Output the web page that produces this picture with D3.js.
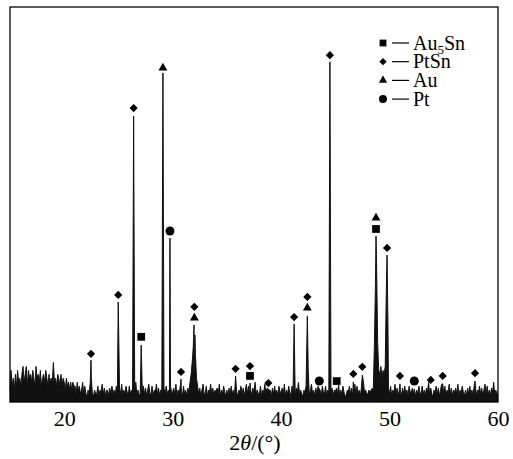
<!DOCTYPE html>
<html><head><meta charset="utf-8">
<script src="https://cdn.jsdelivr.net/npm/d3@7/dist/d3.min.js"></script>
<style>
html,body{margin:0;padding:0;background:#fff;}
svg{display:block;}
text{font-family:"Liberation Serif","Times New Roman",serif;fill:#000;}
</style></head>
<body>
<svg id="chart" width="513" height="459"></svg>
<script>
// ---- data (2θ in degrees, intensity in arbitrary units 0-100) ----
const xTicks = [20, 30, 40, 50, 60];
const noiseStart = 15.0;
const noiseStep = 0.1;
const noise = [
  3,8,4,6,3,7,4,8,5,6,
  4,7,9,5,7,9,4,8,6,7,
  5,8,6,4,9,6,7,5,8,4,
  6,7,5,8,6,4,7,5,6,5,
  10,5,6,4,7,6,4,7,4,6,
  5,3,6,4,5,3,5,3,5,4,
  4,2,5,3,4,2,3,5,2,4,
  2,1.5,3,2,5,6,2,1.5,3,2,
  2,4,1.5,3,2.5,4.5,2,3.5,1.5,3,
  3,1.5,3.5,2,4,2,3,1.5,4,2.5,
  2.5,3.5,2,4.5,1.5,3,2,4,2.5,1.5,
  4,2,3,1.5,3.5,2.5,5,2,3,2,
  1.5,3,2.5,4,2,3.5,1.5,3,4.5,2,
  2,4,1.5,3,2.5,4.5,2,3.5,1.5,3,
  3,1.5,3.5,2,4,2,3,1.5,4,2.5,
  2.5,3.5,2,4.5,1.5,3,2,4,2.5,1.5,
  4,2,3,1.5,3.5,2.5,5,2,3,2,
  1.5,3,2.5,4,2,3.5,1.5,3,4.5,2,
  2,4,1.5,3,2.5,4.5,2,3.5,1.5,3,
  2.5,3.5,2,4.5,1.5,3,2,4,2.5,1.5,
  3,1.5,3.5,2,4,2,3,1.5,4,2.5,
  1.5,3,2.5,4,2,3.5,1.5,3,4.5,2,
  4,2,3,1.5,3.5,2.5,5,2,3,2,
  2,4,1.5,3,2.5,4.5,2,3.5,1.5,3,
  3,1.5,3.5,2,4,2,3,1.5,4,2.5,
  2.5,3.5,2,4.5,1.5,3,2,4,2.5,1.5,
  4,2,3,1.5,3.5,2.5,5,2,3,2,
  1.5,3,2.5,4,2,3.5,1.5,3,4.5,2,
  3,1.5,3.5,2,4,2,3,1.5,4,2.5,
  2,4,1.5,3,2.5,4.5,2,3.5,1.5,3,
  2.5,3.5,2,4.5,1.5,3,2,4,2.5,1.5,
  1.5,3,2.5,4,2,3.5,1.5,3,4.5,2,
  4,2,3,1.5,3.5,2.5,5,2,3,2,
  2,3,2.5,3,3.5,3,4,4,5,5,
  8,7,9,6,8,7,9,6,5,3.5,
  2,4,1.5,3,2.5,4.5,2,3.5,1.5,3,
  3,1.5,3.5,2,4,2,3,1.5,4,2.5,
  2.5,3.5,2,4.5,1.5,3,2,4,2.5,1.5,
  4,2,3,1.5,3.5,2.5,5,2,3,2,
  1.5,3,2.5,4,2,3.5,1.5,3,4.5,2,
  2,4,1.5,3,2.5,4.5,2,3.5,1.5,3,
  2.5,3.5,2,4.5,1.5,3,2,4,2.5,1.5,
  3,1.5,3.5,2,4,2,3,1.5,4,2.5,
  1.5,3,2.5,4,2,3.5,1.5,3,4.5,2,
  4,2,3,1.5,3.5,2.5,5,2,3,2,
  2
];
const peaks = [
  [22.47,10.6],[24.98,25.3],[26.4,72.4],[27.1,14.4],[29.1,83.3],[29.75,41.5],
  [30.77,5.8],
  [31.6,5],[31.7,7],[31.8,10],[31.9,14],[31.97,19.5],[32.05,17],[32.1,12],[32.2,6],
  [35.8,6.6],[37.13,4.8],[38.82,3.3],[41.2,19.7],[42.42,21.8],[42.5,8],
  [43.52,3.3],[44.5,86.1],[45.13,3.3],[46.66,5.1],[47.49,6.8],
  [48.6,14],[48.7,30],[48.75,42],[48.8,36],[48.9,15],
  [49.7,28],[49.77,37.2],[49.85,20],
  [50.96,4.6],[52.28,3.3],[53.8,3.5],[54.9,4.6],[57.88,5.3]
];
// phase markers [2θ, intensity]
const au5sn = [[27.1,16.5],[37.13,6.6],[45.13,5.3],[48.75,43.8]];
const ptsn = [[22.47,12.2],[24.98,27.1],[26.4,74.4],[30.77,7.6],[32.0,24.1],[35.8,8.4],
  [37.13,9.1],[38.82,4.8],[41.2,21.5],[42.42,26.6],[44.5,87.8],[46.66,7.1],[47.49,8.9],
  [49.77,39.0],[50.96,6.6],[53.8,5.6],[54.9,6.6],[57.88,7.3]];
const au = [[29.1,84.6],[32.0,21.3],[42.42,23.8],[48.75,46.6]];
const pt = [[29.75,43.3],[43.52,5.3],[52.28,5.3]];
const legendLabels = [["Au","5","Sn"],["PtSn","",""],["Au","",""],["Pt","",""]];

// ---- build series ----
let pts = noise.map((v,i)=>[+(noiseStart+i*noiseStep).toFixed(2), v]);
pts = pts.filter(p => !peaks.some(q => Math.abs(q[0]-p[0]) < 0.03));
pts = pts.concat(peaks).sort((a,b)=>a[0]-b[0]);

// ---- layout ----
const svg = d3.select("#chart");
const L = 10, R = 498, T = 7, B = 402;
const x = d3.scaleLinear().domain([15,60]).range([L,R]);
const y = d3.scaleLinear().domain([0,100]).range([B,T]);

svg.append("path").datum(pts)
  .attr("fill","#111").attr("stroke","none")
  .attr("d", d3.area().x(d=>x(d[0])).y0(y(0)).y1(d=>y(d[1])));
svg.append("path").datum(pts)
  .attr("fill","none").attr("stroke","#111").attr("stroke-width",1)
  .attr("d", d3.line().x(d=>x(d[0])).y(d=>y(d[1])));

// frame
svg.append("rect").attr("x",L).attr("y",T).attr("width",R-L).attr("height",B-T)
  .attr("fill","none").attr("stroke","#000").attr("stroke-width",1.3);

// x axis labels (no tick marks)
const ax = svg.append("g").attr("transform",`translate(0,${B})`)
  .call(d3.axisBottom(x).tickValues(xTicks).tickSize(0).tickPadding(8).tickFormat(d3.format("d")));
ax.select(".domain").remove();
ax.selectAll("text").attr("font-size",22).attr("font-family","Liberation Serif, serif");

// axis title
const t = svg.append("text").attr("x",255).attr("y",450).attr("text-anchor","middle").attr("font-size",22);
t.append("tspan").text("2");
t.append("tspan").attr("font-style","italic").text("θ");
t.append("tspan").text("/(°)");

// markers
const sym = {
  sq: d3.symbol().type(d3.symbolSquare).size(60),
  di: d3.symbol().type(d3.symbolSquare).size(34),
  tr: d3.symbol().type(d3.symbolTriangle).size(34),
  ci: d3.symbol().type(d3.symbolCircle).size(64)
};
const legSym = {
  sq: d3.symbol().type(d3.symbolSquare).size(46),
  di: d3.symbol().type(d3.symbolSquare).size(26),
  tr: d3.symbol().type(d3.symbolTriangle).size(30),
  ci: d3.symbol().type(d3.symbolCircle).size(50)
};
function drawMarkers(data, s, rot){
  svg.append("g").selectAll("path").data(data).join("path")
    .attr("d", s)
    .attr("transform", d=>`translate(${x(d[0])},${y(d[1])})${rot?" rotate(45)":""}`)
    .attr("fill","#000");
}
drawMarkers(au5sn, sym.sq, false);
drawMarkers(ptsn, sym.di, true);
drawMarkers(au, sym.tr, false);
drawMarkers(pt, sym.ci, false);

// legend
const legSyms = [[legSym.sq,false],[legSym.di,true],[legSym.tr,false],[legSym.ci,false]];
const lg = svg.append("g");
legendLabels.forEach((lab,i)=>{
  const cy = 43 + i*18.7;
  lg.append("path").attr("d", legSyms[i][0])
    .attr("transform",`translate(383,${cy})${legSyms[i][1]?" rotate(45)":""}`).attr("fill","#000");
  lg.append("line").attr("x1",392).attr("x2",409).attr("y1",cy).attr("y2",cy)
    .attr("stroke","#000").attr("stroke-width",1.2);
  const tx = lg.append("text").attr("x",413).attr("y",cy+6.5).attr("font-size",20);
  tx.append("tspan").text(lab[0]);
  if (lab[1]) tx.append("tspan").attr("font-size",13).attr("dy",4).text(lab[1]);
  if (lab[2]) tx.append("tspan").attr("dy",-4).text(lab[2]);
});
</script>
</body></html>
